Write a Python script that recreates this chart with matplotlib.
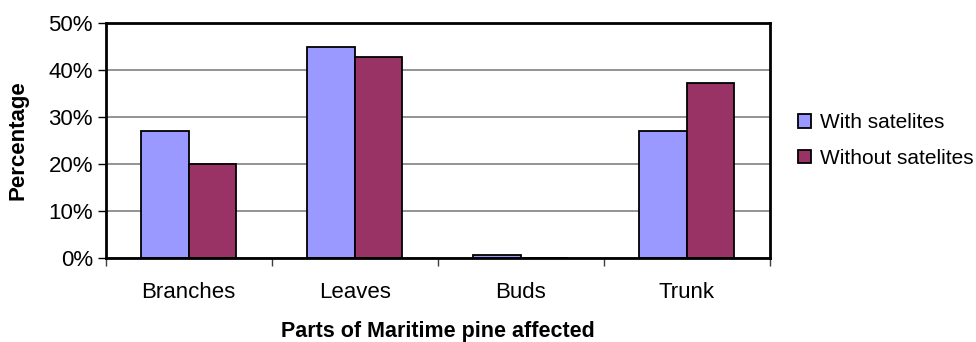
import numpy as np
import matplotlib
matplotlib.use('Agg')
import matplotlib.pyplot as plt
from matplotlib.ticker import PercentFormatter

plt.rcParams['font.family'] = ['Liberation Sans', 'DejaVu Sans']

parts = ['Branches', 'Leaves', 'Buds', 'Trunk']
with_sat = [27.1, 44.9, 0.7, 27.1]
without_sat = [20.0, 42.8, 0.0, 37.3]
series_names = ['With satelites', 'Without satelites']
colors = ['#9999FF', '#993366']

FS = 16

fig = plt.figure(figsize=(9.76, 3.42), dpi=100)
ax = fig.add_axes([0.1081, 0.2447, 0.6805, 0.6889])

x = np.arange(len(parts))
w = 0.286
ax.bar(x - w / 2, with_sat, w, color=colors[0], edgecolor='black', linewidth=1.3,
       label=series_names[0], zorder=3)
ax.bar(x + w / 2, without_sat, w, color=colors[1], edgecolor='black', linewidth=1.3,
       label=series_names[1], zorder=3)

ax.set_xlim(-0.5, len(parts) - 0.5)
ax.set_ylim(0, 50)
ax.set_yticks(np.arange(0, 51, 10))
ax.yaxis.set_major_formatter(PercentFormatter(decimals=0))
ax.yaxis.grid(True, color='#808080', linewidth=1.2, zorder=0)

# labels in the middle of each category, tick marks on the boundaries
ax.set_xticks(x)
ax.set_xticklabels(parts)
ax.set_xticks(np.arange(-0.5, len(parts)), minor=True)
ax.tick_params(axis='x', which='major', length=0, pad=17, labelsize=FS)
ax.tick_params(axis='x', which='minor', length=6, width=1, color='#404040')
ax.tick_params(axis='y', length=6, width=1, labelsize=FS, pad=3)

for side in ['left', 'bottom', 'top', 'right']:
    ax.spines[side].set_linewidth(2)
    ax.spines[side].set_color('black')
    ax.spines[side].set_zorder(4)

ax.set_ylabel('Percentage', fontsize=FS, fontweight='bold', labelpad=14)
ax.set_xlabel('Parts of Maritime pine affected', fontsize=FS - 0.5, fontweight='bold', labelpad=13)

leg = fig.legend(loc='center left', bbox_to_anchor=(0.809, 0.589), frameon=False,
                 fontsize=15, handlelength=0.62, handleheight=0.62, handletextpad=0.45,
                 labelspacing=0.8, borderaxespad=0)
for h in leg.legend_handles:
    h.set_linewidth(1.3)

fig.savefig('out.png', dpi=100)
